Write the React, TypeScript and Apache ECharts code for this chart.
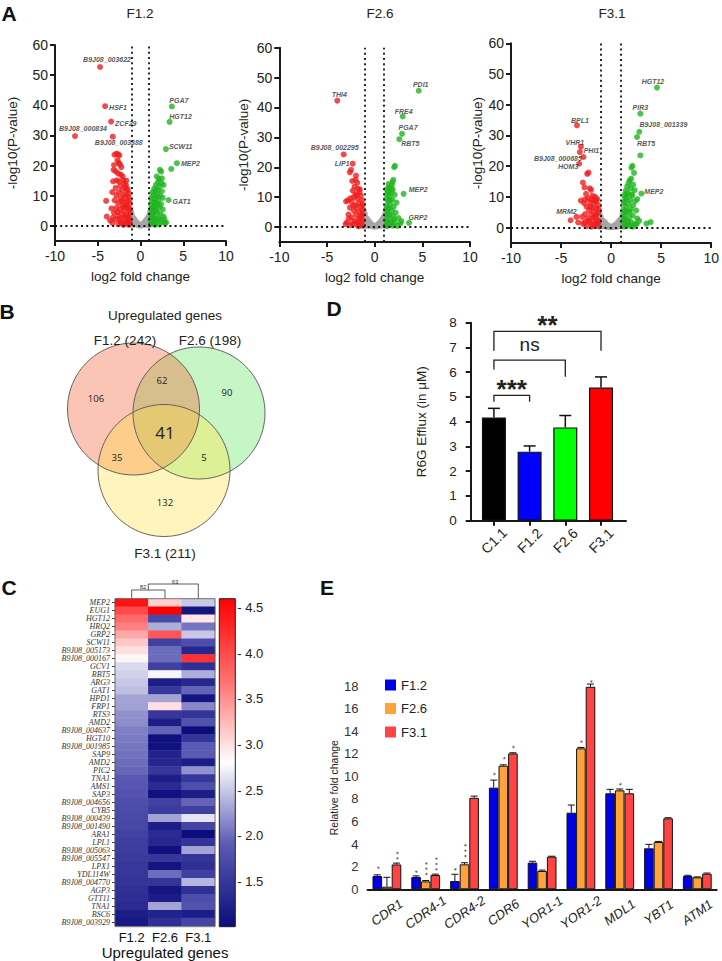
import React, { useEffect, useRef } from 'react';
import * as echarts from 'echarts';

// ---------------- Panel A: volcano plots ----------------
const volcanoNames = ['F1.2', 'F2.6', 'F3.1'];
const volYTicks = [0, 10, 20, 30, 40, 50, 60];

const f12Grey = [[-1.18,5.3],[-1.12,4.7],[-1.16,3.9],[-1.1,3.1],[-1.18,2.4],[-1.12,1.6],[-1.15,0.8],[-1.05,4.1],[-1.0,3.4],[-0.98,2.5],[-1.02,1.5],[-0.95,0.6],[-0.9,2.9],[-0.86,1.9],[-0.82,1.1],[-0.78,2.4],[-0.74,0.5],[-0.7,1.6],[-0.65,2.0],[-0.6,0.9],[-0.56,1.5],[-0.5,0.4],[-0.46,1.1],[-0.4,0.7],[-0.35,1.0],[-0.3,0.3],[-0.24,0.6],[-0.18,0.2],[-0.12,0.4],[-0.06,0.1],[0.02,0.2],[0.08,0.35],[0.14,0.15],[0.2,0.5],[0.26,0.3],[0.32,0.8],[0.38,0.4],[0.44,1.1],[0.5,0.6],[0.55,1.5],[0.6,0.3],[0.66,1.9],[0.72,1.0],[0.76,2.3],[0.82,0.5],[0.86,2.7],[0.9,1.5],[0.95,3.2],[1.0,2.2],[1.02,0.8],[1.06,3.8],[1.1,2.8],[1.14,4.5],[1.18,1.5],[1.16,3.4],[1.2,0.4],[-1.2,0.3],[-0.9,0.3],[0.9,0.2],[1.17,5.2]];
const f12Red = [[-2.8,24.0],[-2.62,23.7],[-2.48,23.4],[-3.05,23.6],[-2.7,21.8],[-2.55,20.9],[-3.1,20.2],[-2.4,20.4],[-2.25,19.5],[-3.15,18.6],[-2.9,18.1],[-2.62,17.4],[-2.3,17.0],[-2.1,16.4],[-3.2,14.8],[-2.78,15.1],[-2.5,14.7],[-2.0,15.2],[-1.65,15.0],[-1.88,14.0],[-2.36,13.3],[-2.92,12.6],[-1.8,12.8],[-2.15,12.0],[-1.58,11.6],[-2.52,11.1],[-3.3,11.2],[-2.82,10.1],[-2.02,10.3],[-1.72,10.0],[-1.42,9.6],[-2.32,9.2],[-3.02,8.5],[-1.92,8.4],[-1.55,8.0],[-2.62,7.6],[-2.12,7.0],[-1.3,7.2],[-1.76,6.5],[-2.82,6.0],[-2.42,5.5],[-1.45,5.8],[-1.92,5.0],[-1.26,4.6],[-3.1,4.4],[-2.22,4.0],[-1.62,3.8],[-2.62,3.2],[-1.36,3.0],[-1.96,2.6],[-2.9,2.2],[-1.5,1.8],[-2.32,1.5],[-1.26,1.2],[-3.3,1.0],[-1.8,0.8],[-2.62,0.6],[-1.4,0.4],[-2.02,0.3],[-4.02,8.3],[-3.95,3.1],[-3.55,1.8],[-3.22,2.8],[-3.4,5.8],[-1.5,12.2],[-1.35,10.8],[-1.7,13.5],[-2.2,8.3],[-1.6,6.8],[-1.28,8.6],[-2.0,6.2],[-1.82,3.2],[-2.42,2.4],[-1.55,2.6],[-1.28,5.6],[-2.7,4.6],[-1.7,1.2],[-2.2,0.9],[-1.3,1.9]];
const f12Green = [[2.27,18.6],[2.42,18.0],[1.91,16.4],[2.5,15.8],[2.05,14.6],[2.45,14.2],[1.8,13.6],[2.7,13.6],[2.2,13.0],[1.6,12.4],[2.05,11.8],[2.5,11.5],[1.9,10.5],[1.5,10.2],[2.3,10.0],[1.7,9.0],[2.6,9.3],[2.1,8.5],[1.35,8.2],[1.9,7.5],[2.4,7.2],[1.6,6.6],[2.2,6.2],[1.3,5.8],[1.8,5.2],[2.6,5.5],[2.0,4.5],[1.45,4.2],[2.35,3.8],[1.7,3.3],[1.25,2.8],[2.1,2.5],[2.8,2.2],[1.55,1.8],[1.9,1.2],[2.5,1.3],[1.3,0.8],[2.2,0.5],[1.7,0.3],[2.7,3.1],[3.0,1.1],[2.85,0.9],[3.6,18.9],[1.4,11.2],[1.28,6.8],[1.55,7.8],[1.75,11.6],[2.15,15.6],[1.4,3.4],[1.25,1.6],[1.65,5.4],[2.0,9.6],[1.3,9.4],[1.6,0.9],[2.35,2.0],[1.8,2.2],[1.45,6.1],[2.05,6.9],[1.3,4.4]];
const f12RedNamed = [[-4.73,52.7,'B9J08_003622'],[-4.14,39.7,'HSF1'],[-3.44,34.6,'ZCF29'],[-7.66,29.8,'B9J08_000834'],[-3.24,29.6,'B9J08_003388']];
const f12GreenNamed = [[3.67,39.6,'PGA7'],[3.40,34.5,'HGT12'],[2.97,25.5,'SCW11'],[4.26,20.8,'MEP2'],[3.28,8.6,'GAT1']];

const f26Grey = [[-1.18,6.0],[-1.12,5.2],[-1.16,4.3],[-1.1,3.5],[-1.17,2.6],[-1.12,1.7],[-1.16,0.7],[-1.04,4.6],[-1.0,3.6],[-0.97,2.6],[-1.02,1.4],[-0.94,0.5],[-0.9,3.1],[-0.85,2.0],[-0.8,1.0],[-0.77,2.6],[-0.72,0.4],[-0.68,1.7],[-0.63,2.2],[-0.58,0.8],[-0.54,1.6],[-0.48,0.4],[-0.44,1.2],[-0.38,0.7],[-0.33,1.0],[-0.28,0.3],[-0.22,0.6],[-0.16,0.2],[-0.1,0.45],[-0.04,0.1],[0.03,0.25],[0.09,0.4],[0.15,0.15],[0.21,0.55],[0.27,0.3],[0.33,0.9],[0.39,0.45],[0.45,1.2],[0.51,0.6],[0.56,1.6],[0.61,0.3],[0.67,2.0],[0.73,1.1],[0.78,2.5],[0.83,0.5],[0.87,2.9],[0.92,1.6],[0.96,3.5],[1.0,2.3],[1.03,0.8],[1.07,4.2],[1.11,3.0],[1.15,5.0],[1.18,1.6],[1.16,3.8],[1.19,0.4],[1.17,5.8],[-1.2,0.3]];
const f26Red = [[-2.6,18.3],[-2.48,19.1],[-1.96,17.2],[-1.82,14.8],[-2.35,15.4],[-2.0,15.8],[-2.1,13.5],[-1.75,12.8],[-2.3,12.2],[-1.6,11.6],[-2.0,11.0],[-1.45,10.5],[-2.2,10.0],[-1.8,9.5],[-1.35,9.0],[-2.4,8.4],[-1.65,8.0],[-2.0,7.3],[-1.4,7.0],[-2.6,6.5],[-1.85,6.2],[-1.3,5.8],[-2.2,5.5],[-1.6,5.0],[-2.75,4.2],[-1.95,4.2],[-1.35,3.8],[-2.4,3.2],[-1.7,2.8],[-1.25,2.2],[-2.1,2.0],[-2.9,1.6],[-1.5,1.4],[-1.9,0.9],[-2.5,0.6],[-1.3,0.5],[-1.7,0.2],[-3.0,8.6],[-2.8,8.9],[-3.05,1.0],[-2.7,2.8],[-1.55,12.6],[-1.25,7.6],[-1.5,3.2],[-2.25,7.2],[-1.8,1.6],[-2.3,1.2],[-1.28,4.4],[-2.55,9.6],[-1.9,10.6]];
const f26Green = [[2.13,20.5],[2.05,20.0],[1.95,15.8],[1.88,15.0],[1.8,14.0],[1.5,13.2],[1.9,12.5],[1.4,12.0],[1.7,11.5],[1.3,11.0],[2.1,10.8],[1.55,10.0],[1.22,9.5],[1.85,9.2],[1.4,8.5],[2.3,8.2],[1.65,7.6],[1.25,7.0],[2.0,6.8],[1.5,6.2],[1.8,5.5],[1.3,5.0],[2.2,4.8],[1.6,4.2],[1.95,3.6],[1.25,3.2],[2.5,3.0],[1.7,2.4],[1.4,1.8],[2.1,1.6],[2.7,1.2],[1.55,0.8],[1.9,0.5],[1.3,0.3],[2.4,0.4],[2.8,2.0],[1.75,12.8],[1.45,14.4],[1.25,12.6],[1.6,9.0],[1.35,6.4],[1.45,4.0],[1.28,1.4],[1.75,1.2],[2.05,2.6],[1.5,11.4]];
const f26RedNamed = [[-3.92,42.3,'THI4'],[-3.25,24.3,'B9J08_002295'],[-2.31,21.2,'LIP1']];
const f26GreenNamed = [[4.62,45.6,'PDI1'],[2.94,37.0,'FRE4'],[2.87,31.2,'PGA7'],[2.59,29.4,'RBT5'],[3.04,11.1,'MEP2'],[3.60,1.4,'GRP2']];

const f31Grey = [[-1.18,4.6],[-1.13,4.0],[-1.16,3.3],[-1.1,2.6],[-1.17,1.9],[-1.12,1.2],[-1.16,0.5],[-1.04,3.5],[-1.0,2.8],[-0.97,2.0],[-1.02,1.1],[-0.94,0.4],[-0.9,2.5],[-0.85,1.6],[-0.8,0.8],[-0.76,2.1],[-0.72,0.4],[-0.68,1.4],[-0.63,1.8],[-0.58,0.7],[-0.54,1.3],[-0.48,0.3],[-0.44,1.0],[-0.38,0.6],[-0.33,0.8],[-0.28,0.25],[-0.22,0.5],[-0.16,0.2],[-0.1,0.35],[-0.04,0.1],[0.03,0.2],[0.09,0.35],[0.15,0.15],[0.21,0.45],[0.27,0.25],[0.33,0.75],[0.39,0.35],[0.45,1.0],[0.51,0.5],[0.56,1.3],[0.61,0.25],[0.67,1.7],[0.73,0.9],[0.78,2.1],[0.83,0.45],[0.87,2.4],[0.92,1.3],[0.96,2.9],[1.0,1.9],[1.03,0.7],[1.07,3.4],[1.11,2.4],[1.15,4.1],[1.18,1.3],[1.16,3.0],[1.19,0.35],[1.17,4.6],[-1.2,0.3]];
const f31Red = [[-2.39,17.5],[-2.26,17.9],[-2.82,14.7],[-2.66,13.1],[-2.13,12.8],[-2.0,12.3],[-2.5,11.0],[-1.85,10.4],[-1.6,10.0],[-2.3,9.6],[-1.95,9.2],[-1.45,8.8],[-2.7,8.0],[-2.1,8.2],[-1.7,7.8],[-1.3,7.4],[-2.45,6.8],[-1.9,6.5],[-1.5,6.2],[-2.2,5.6],[-1.75,5.2],[-1.3,4.8],[-2.6,4.4],[-2.0,4.2],[-1.55,3.6],[-2.35,3.0],[-1.85,2.6],[-1.25,2.3],[-2.15,1.6],[-2.8,1.2],[-1.65,1.2],[-1.4,0.6],[-2.45,0.5],[-1.95,0.3],[-3.02,8.8],[-2.6,9.2],[-4.05,2.4],[-3.29,1.7],[-2.9,3.5],[-2.65,1.8],[-1.4,9.4],[-1.65,8.8],[-1.25,6.0],[-1.5,4.2],[-1.3,1.4],[-1.75,3.4],[-2.1,6.8],[-1.45,2.0],[-2.25,2.2],[-1.8,0.8]];
const f31Green = [[2.92,23.5],[2.13,20.1],[2.03,19.5],[2.29,17.8],[1.86,15.4],[2.0,16.0],[1.75,14.6],[2.2,14.0],[1.6,13.4],[1.95,12.8],[1.45,12.0],[2.35,12.2],[1.7,11.2],[1.3,10.6],[2.1,10.4],[1.55,9.6],[1.9,9.0],[2.4,8.6],[1.35,8.4],[1.75,7.8],[2.2,7.2],[1.5,6.8],[1.25,6.0],[1.95,6.0],[2.5,5.6],[1.6,5.0],[1.3,4.2],[2.15,4.0],[1.8,3.4],[2.6,3.0],[1.45,2.6],[1.22,1.8],[2.0,1.8],[2.4,1.2],[1.65,1.0],[1.35,0.4],[2.2,0.3],[1.9,0.6],[2.62,9.3],[3.52,1.3],[3.95,1.8],[2.8,2.2],[2.55,1.1],[1.4,9.6],[1.25,8.0],[1.55,11.0],[1.4,5.4],[1.25,3.0],[1.7,2.0],[1.5,0.9],[2.05,10.8],[1.85,5.2]];
const f31RedNamed = [[-3.41,33.3,'BPL1'],[-3.02,26.3,'VHR1'],[-2.76,23.0,'PHI1'],[-3.12,24.6,'B9J08_000685'],[-3.19,20.8,'HOM3'],[-3.46,3.5,'MRM2']];
const f31GreenNamed = [[4.58,45.6,'HGT12'],[2.92,37.1,'PIR3'],[2.82,31.2,'B9J08_001339'],[2.59,29.5,'RBT5'],[3.02,11.1,'MEP2']];

// label placements (style): [dx, dy, align]
const f12RedPlace = [[7,-8,'center'],[4,1,'left'],[4,2,'left'],[8,-8,'center'],[6,6,'center']];
const f12GreenPlace = [[7,-6,'center'],[11,-5,'center'],[3,-3,'left'],[4,0,'left'],[4,2,'left']];
const f26RedPlace = [[2,-6,'center'],[-9,-7,'center'],[-3,0,'right']];
const f26GreenPlace = [[2,-6,'center'],[1,-5,'center'],[6,-6,'center'],[11,4,'center'],[5,-4,'left'],[9,-5,'center']];
const f31RedPlace = [[3,-5,'center'],[-6,-4,'center'],[8,-6,'center'],[-22,6,'center'],[-11,3,'center'],[-10,-5,'center']];
const f31GreenPlace = [[-4,-6,'center'],[0,-6,'center'],[24,-7,'center'],[9,6,'center'],[3,-2,'left']];

// ---------------- Panel B: Venn ----------------
const vennSets = ['F1.2', 'F2.6', 'F3.1'];
const vennTotals = [242, 198, 211];
const vennOnly = [106, 90, 132];
const vennPairs = [62, 35, 5]; // AB, AC, BC
const vennAll = 41;

// ---------------- Panel C: heatmap ----------------
const heatCols = ['F1.2', 'F2.6', 'F3.1'];
const heatGenes = ['MEP2','EUG1','HGT12','HRQ2','GRP2','SCW11','B9J08_005173','B9J08_000167','GCV1','RBT5','ARG3','GAT1','HPD1','FRP1','RTS3','AMD2','B9J08_004637','HGT10','B9J08_001985','SAP9','AMD2','PIC2','TNA1','AMS1','SAP3','B9J08_004656','CYB5','B9J08_000439','B9J08_001490','ARA1','LPL1','B9J08_005063','B9J08_005547','LPX1','YDL114W','B9J08_004770','AGP3','GTT11','TNA1','BSC6','B9J08_003929'];
const heatF12 = [4.45,4.0,3.75,3.6,3.35,3.15,3.0,2.85,2.6,2.55,2.5,2.45,2.3,2.28,2.2,2.18,2.1,2.08,2.06,2.03,2.0,1.97,1.88,1.85,1.82,1.75,1.73,1.7,1.68,1.62,1.58,1.55,1.53,1.5,1.48,1.45,1.4,1.38,1.35,1.2,1.15];
const heatF26 = [3.1,4.6,1.7,2.35,3.9,1.6,2.0,2.0,1.6,2.75,1.2,1.5,2.3,3.0,1.5,1.2,1.95,1.05,1.05,1.25,1.3,1.5,1.2,1.35,1.05,1.6,1.55,2.3,1.2,1.35,1.3,1.05,1.5,1.1,2.0,1.45,1.1,1.2,2.3,1.25,1.4];
const heatF31 = [2.5,1.1,2.95,2.05,2.5,1.75,1.3,4.2,1.4,2.35,1.3,1.95,1.1,2.15,1.45,1.8,1.0,1.45,1.9,1.9,1.2,2.2,1.5,1.75,1.2,1.95,1.6,2.65,1.65,1.0,1.45,2.3,1.45,1.4,1.6,2.4,1.4,1.75,1.8,1.2,1.65];
const heatMin = 1.0, heatMax = 4.6;
const dendroLabels = ['82', '63'];

// ---------------- Panel D: R6G efflux ----------------
const effluxCats = ['C1.1', 'F1.2', 'F2.6', 'F3.1'];
const effluxMean = [4.17, 2.79, 3.77, 5.38];
const effluxErr = [0.37, 0.23, 0.48, 0.43];
const sigFrom = [0, 0, 0];
const sigTo = [1, 2, 3];
const sigTop = [5.06, 6.49, 7.65];
const sigLegL = [4.81, 6.11, 6.87];
const sigLegR = [4.81, 5.82, 6.87];
const sigText = ['***', 'ns', '**'];
const sigTextY = [5.58, 7.12, 8.13];

// ---------------- Panel E: relative fold change ----------------
const eGenes = ['CDR1','CDR4-1','CDR4-2','CDR6','YOR1-1','YOR1-2','MDL1','YBT1','ATM1'];
const eSeriesNames = ['F1.2', 'F2.6', 'F3.1'];
const eF12 = [1.18, 1.09, 0.73, 9.0, 2.36, 6.78, 8.5, 3.63, 1.18];
const eF26 = [0.23, 0.70, 2.21, 10.94, 1.62, 12.48, 8.76, 4.19, 1.06];
const eF31 = [2.20, 1.26, 8.10, 12.03, 2.89, 17.93, 8.50, 6.28, 1.38];
const eF12Err = [0.10, 0.10, 0.60, 0.67, 0.12, 0.68, 0.35, 0.35, 0.06];
const eF26Err = [0.83, 0.08, 0.14, 0.08, 0.08, 0.08, 0.12, 0.05, 0.04];
const eF31Err = [0.12, 0.08, 0.15, 0.06, 0.04, 0.24, 0.35, 0.06, 0.06];
const eF12Stars = [1, 1, 1, 1, 0, 0, 0, 0, 0];
const eF26Stars = [0, 3, 3, 1, 0, 1, 1, 0, 0];
const eF31Stars = [2, 3, 0, 1, 0, 1, 0, 0, 0];
const eF12StarY = [1.9, 1.55, 1.77, 10.2, 0, 0, 0, 0, 0];
const eF26StarY = [0, 1.35, 2.95, 11.6, 0, 13.06, 9.3, 0, 0];
const eF31StarY = [2.75, 1.77, 0, 12.6, 0, 18.4, 0, 0, 0];

// ---------------- styling ----------------
const RED = '#f01e1e';
const GREEN = '#1fb51f';
const GREY = '#a6a6a6';
const DARK = '#1a1a1a';
const E_COLORS = ['#0000e6', '#ffa23a', '#ff4444'];
const D_COLORS = ['#000000', '#0000ff', '#00ff00', '#ff0000'];
const HEAT_COLORS = ['#0c0c7c', '#5a5ab4', '#ffffff', '#ff7070', '#ff0000'];
const E_BAR_W = 9.6;

type P = [number, number];
const VR = 66;
const vA: P = [133.5, 409];
const vB: P = [199, 413];
const vC: P = [164, 470.5];

function intersect(c1: P, c2: P): [P, P] {
  const dx = c2[0] - c1[0], dy = c2[1] - c1[1];
  const d = Math.hypot(dx, dy);
  const h = Math.sqrt(VR * VR - (d / 2) * (d / 2));
  const mx = c1[0] + dx / 2, my = c1[1] + dy / 2;
  return [[mx - (h * dy) / d, my + (h * dx) / d], [mx + (h * dy) / d, my - (h * dx) / d]];
}
const inside = (p: P, c: P) => Math.hypot(p[0] - c[0], p[1] - c[1]) < VR - 0.01;
function arcPts(c: P, p: P, q: P, ok: (m: P) => boolean): P[] {
  const a1 = Math.atan2(p[1] - c[1], p[0] - c[0]);
  const a2 = Math.atan2(q[1] - c[1], q[0] - c[0]);
  let d = a2 - a1;
  while (d <= 0) d += 2 * Math.PI;
  const at = (t: number): P => [c[0] + VR * Math.cos(t), c[1] + VR * Math.sin(t)];
  if (!ok(at(a1 + d / 2))) d -= 2 * Math.PI;
  const pts: P[] = [];
  const n = 40;
  for (let i = 0; i <= n; i++) pts.push(at(a1 + (d * i) / n));
  return pts;
}

function vennGraphics() {
  const [ab1, ab2] = intersect(vA, vB);
  const abIn = inside(ab1, vC) ? ab1 : ab2;
  const abOut = abIn === ab1 ? ab2 : ab1;
  const [ac1, ac2] = intersect(vA, vC);
  const acIn = inside(ac1, vB) ? ac1 : ac2;
  const acOut = acIn === ac1 ? ac2 : ac1;
  const [bc1, bc2] = intersect(vB, vC);
  const bcIn = inside(bc1, vA) ? bc1 : bc2;
  const bcOut = bcIn === bc1 ? bc2 : bc1;

  const lensAB = [...arcPts(vA, abOut, abIn, (m) => inside(m, vB)), ...arcPts(vB, abIn, abOut, (m) => inside(m, vA))];
  const lensAC = [...arcPts(vA, acOut, acIn, (m) => inside(m, vC)), ...arcPts(vC, acIn, acOut, (m) => inside(m, vA))];
  const lensBC = [...arcPts(vB, bcOut, bcIn, (m) => inside(m, vC)), ...arcPts(vC, bcIn, bcOut, (m) => inside(m, vB))];
  const center = [
    ...arcPts(vC, bcIn, acIn, (m) => inside(m, vA) && inside(m, vB)),
    ...arcPts(vA, acIn, abIn, (m) => inside(m, vB) && inside(m, vC)),
    ...arcPts(vB, abIn, bcIn, (m) => inside(m, vA) && inside(m, vC)),
  ];
  const circ = (c: P, fill: string) => ({ type: 'circle', shape: { cx: c[0], cy: c[1], r: VR }, style: { fill } });
  const ring = (c: P) => ({ type: 'circle', shape: { cx: c[0], cy: c[1], r: VR }, style: { fill: 'none', stroke: '#555', lineWidth: 0.9 } });
  const poly = (pts: P[], fill: string) => ({ type: 'polygon', shape: { points: pts }, style: { fill } });
  const txt = (x: number, y: number, text: string, size: number, family = 'Open Sans') => ({
    type: 'text', x, y, style: { text, fontSize: size, fontFamily: family, fill: '#222', align: 'center', verticalAlign: 'middle' },
  });
  return [
    circ(vA, '#fac5b5'), circ(vB, '#c6f5c6'), circ(vC, '#fff5bc'),
    poly(lensAB, '#d8be8c'), poly(lensAC, '#fdcd8c'), poly(lensBC, '#ddf096'),
    poly(center, '#e4c873'),
    ring(vA), ring(vB), ring(vC),
    txt(165, 315, 'Upregulated genes', 13.5, 'Liberation Sans'),
    txt(125, 340, `${vennSets[0]} (${vennTotals[0]})`, 13.5, 'Liberation Sans'),
    txt(210, 340, `${vennSets[1]} (${vennTotals[1]})`, 13.5, 'Liberation Sans'),
    txt(165, 553, `${vennSets[2]} (${vennTotals[2]})`, 13.5, 'Liberation Sans'),
    txt(96, 398, String(vennOnly[0]), 9.5),
    txt(227, 392, String(vennOnly[1]), 9.5),
    txt(165, 502, String(vennOnly[2]), 9.5),
    txt(162, 380, String(vennPairs[0]), 9.5),
    txt(117, 457, String(vennPairs[1]), 9.5),
    txt(204, 457, String(vennPairs[2]), 9.5),
    txt(165, 432, String(vennAll), 17),
  ];
}

function buildOption() {
  const axisLine = { onZero: false, lineStyle: { color: DARK, width: 2 } };
  const axisTick = { length: 5, lineStyle: { color: DARK, width: 2 } };
  const tickFont = { fontSize: 14, color: '#222' };

  const volGrids = [
    { left: 55, top: 45, width: 171, height: 196 },
    { left: 279.3, top: 47.7, width: 190.7, height: 194.3 },
    { left: 511, top: 43.3, width: 200.7, height: 199.7 },
  ];
  const volYNameGap = [36, 29, 26];
  const grids: any[] = [
    ...volGrids,
    { left: 470.7, top: 322.7, width: 155.3, height: 198 },
    { left: 115, top: 598.7, width: 100, height: 328 },
    { left: 367.5, top: 686, width: 349.2, height: 203.3 },
    { left: 219.3, top: 598.7, width: 16, height: 328 },
  ];

  const xAxes: any[] = [];
  const yAxes: any[] = [];
  for (let i = 0; i < 3; i++) {
    xAxes.push({
      type: 'value', gridIndex: i, min: -10, max: 10, interval: 5,
      name: 'log2 fold change', nameLocation: 'middle', nameGap: 28,
      nameTextStyle: { fontSize: 13.5, color: '#222' },
      axisLine, axisTick, axisLabel: { ...tickFont, margin: 8 }, splitLine: { show: false },
    });
    yAxes.push({
      type: 'value', gridIndex: i, min: -5, max: 60,
      name: '-log10(P-value)', nameLocation: 'middle', nameGap: volYNameGap[i], nameRotate: 90,
      nameTextStyle: { fontSize: 13.5, color: '#222' },
      axisLine, axisTick: { ...axisTick, customValues: volYTicks },
      axisLabel: { ...tickFont, margin: 7, customValues: volYTicks }, splitLine: { show: false },
    });
  }
  // D
  xAxes.push({
    type: 'value', gridIndex: 3, min: -0.65, max: 3.7, axisLine,
    axisTick: { ...axisTick, customValues: [0, 1, 2, 3] },
    axisLabel: { customValues: [0, 1, 2, 3], formatter: (v: number) => effluxCats[Math.round(v)], rotate: 45, align: 'center', verticalAlign: 'middle', margin: 20, fontSize: 14, color: '#222' },
    splitLine: { show: false },
  });
  yAxes.push({
    type: 'value', gridIndex: 3, min: 0, max: 8, interval: 1,
    name: 'R6G Efflux (in μM)', nameLocation: 'middle', nameGap: 42, nameRotate: 90,
    nameTextStyle: { fontSize: 13.5, color: '#222' },
    axisLine, axisTick, axisLabel: { fontSize: 13.5, color: '#222', margin: 14 }, splitLine: { show: false },
  });
  // C heatmap
  xAxes.push({
    type: 'category', gridIndex: 4, data: heatCols, axisLine: { show: false }, axisTick: { show: false },
    axisLabel: { fontSize: 13, color: '#111', margin: 5, interval: 0 },
    name: 'Upregulated genes', nameLocation: 'middle', nameGap: 17, nameTextStyle: { fontSize: 15, color: '#111' },
  });
  yAxes.push({
    type: 'category', gridIndex: 4, data: heatGenes, inverse: true, axisLine: { show: false },
    axisTick: { show: true, alignWithLabel: true, length: 3, interval: 0, lineStyle: { color: '#444', width: 1 } },
    axisLabel: { interval: 0, fontFamily: 'Liberation Serif', fontStyle: 'italic', fontSize: 8, color: '#333', margin: 5 },
  });
  // E
  xAxes.push({
    type: 'category', gridIndex: 5, data: eGenes, axisLine: { lineStyle: { color: DARK, width: 2 } },
    axisTick: { alignWithLabel: true, length: 4, lineStyle: { color: DARK, width: 1.5 } },
    axisLabel: { rotate: 35, align: 'center', verticalAlign: 'middle', margin: 23, fontStyle: 'italic', fontSize: 13, color: '#222', interval: 0 },
  });
  yAxes.push({
    type: 'value', gridIndex: 5, min: 0, max: 18, interval: 2,
    name: 'Relative fold change', nameLocation: 'middle', nameGap: 28, nameRotate: 90,
    nameTextStyle: { fontSize: 10.5, color: '#222' },
    axisLine: { onZero: false, lineStyle: { color: DARK, width: 1.5 } },
    axisTick: { length: 4, lineStyle: { color: DARK, width: 1.5 } },
    axisLabel: { fontSize: 13, color: '#333', margin: 9 }, splitLine: { show: false },
  });
  // colorbar axis
  xAxes.push({ type: 'value', gridIndex: 6, show: false, min: 0, max: 1 });
  yAxes.push({
    type: 'value', gridIndex: 6, min: heatMin, max: heatMax, interval: 0.5, position: 'right',
    axisLine: { show: false }, axisTick: { show: false }, splitLine: { show: false },
    axisLabel: { fontSize: 13, color: '#222', margin: 2, formatter: (v: number) => (v < 1.2 || v > 4.55 ? '' : '- ' + v.toFixed(1)) },
  });

  const series: any[] = [];
  const sets = [
    { grey: f12Grey, red: f12Red, green: f12Green, redN: f12RedNamed, greenN: f12GreenNamed, redP: f12RedPlace, greenP: f12GreenPlace },
    { grey: f26Grey, red: f26Red, green: f26Green, redN: f26RedNamed, greenN: f26GreenNamed, redP: f26RedPlace, greenP: f26GreenPlace },
    { grey: f31Grey, red: f31Red, green: f31Green, redN: f31RedNamed, greenN: f31GreenNamed, redP: f31RedPlace, greenP: f31GreenPlace },
  ];
  const namedLabel = {
    show: true, position: ['50%', '50%'], formatter: '{b}', fontSize: 7, fontWeight: 'bold', fontStyle: 'italic',
    color: '#2a2a2a', verticalAlign: 'middle', textBorderWidth: 0, fontFamily: 'Liberation Sans',
  };
  sets.forEach((s, i) => {
    const base = { type: 'scatter', xAxisIndex: i, yAxisIndex: i, symbolSize: 6, silent: true };
    series.push({
      ...base, name: 'grey' + i, data: s.grey, itemStyle: { color: GREY }, z: 2,
      markLine: {
        silent: true, symbol: 'none', label: { show: false },
        lineStyle: { type: [2, 3.2], color: '#111', width: 1.8 },
        data: [{ xAxis: -1 }, { xAxis: 1 }, { yAxis: 0 }],
      },
    });
    series.push({ ...base, name: 'down' + i, data: s.red, itemStyle: { color: RED }, z: 3 });
    series.push({ ...base, name: 'up' + i, data: s.green, itemStyle: { color: GREEN }, z: 3 });
    series.push({
      ...base, name: 'downN' + i, itemStyle: { color: RED }, z: 4, label: namedLabel,
      data: s.redN.map((d: any, k: number) => ({ value: [d[0], d[1]], name: d[2], label: { offset: [s.redP[k][0], s.redP[k][1]], align: s.redP[k][2] } })),
    });
    series.push({
      ...base, name: 'upN' + i, itemStyle: { color: GREEN }, z: 4, label: namedLabel,
      data: s.greenN.map((d: any, k: number) => ({ value: [d[0], d[1]], name: d[2], label: { offset: [s.greenP[k][0], s.greenP[k][1]], align: s.greenP[k][2] } })),
    });
  });

  // D bars
  series.push({
    type: 'bar', name: 'efflux', xAxisIndex: 3, yAxisIndex: 3, barWidth: 24, silent: true, z: 2,
    data: effluxMean.map((v, i) => ({ value: [i, v], itemStyle: { color: D_COLORS[i] } })),
    itemStyle: { borderColor: '#111', borderWidth: 1.2 },
  });
  series.push({
    type: 'custom', name: 'effluxErr', xAxisIndex: 3, yAxisIndex: 3, silent: true, z: 3, clip: false,
    data: effluxMean.map((v, i) => [i, v, v + effluxErr[i]]),
    renderItem: (_p: any, api: any) => {
      const b = api.coord([api.value(0), api.value(1)]);
      const t = api.coord([api.value(0), api.value(2)]);
      return {
        type: 'group', children: [
          { type: 'line', shape: { x1: b[0], y1: b[1], x2: t[0], y2: t[1] }, style: { stroke: '#111', lineWidth: 1.5 } },
          { type: 'line', shape: { x1: t[0] - 6, y1: t[1], x2: t[0] + 6, y2: t[1] }, style: { stroke: '#111', lineWidth: 1.5 } },
        ],
      };
    },
  });
  series.push({
    type: 'custom', name: 'sig', xAxisIndex: 3, yAxisIndex: 3, silent: true, z: 3, clip: false,
    data: sigText.map((_t, i) => [sigFrom[i], sigTo[i], sigTop[i], sigLegL[i], sigLegR[i], sigTextY[i], i]),
    renderItem: (_p: any, api: any) => {
      const a = api.value(0), b = api.value(1), top = api.value(2);
      const lL = api.coord([a, api.value(3)]);
      const lR = api.coord([b, api.value(4)]);
      const pL = api.coord([a, top]);
      const pR = api.coord([b, top]);
      const tp = api.coord([(a + b) / 2, api.value(5)]);
      const idx = api.value(6);
      const label = sigText[idx];
      const star = label.indexOf('*') >= 0;
      return {
        type: 'group', children: [
          { type: 'polyline', shape: { points: [[lL[0], lL[1]], [pL[0], pL[1]], [pR[0], pR[1]], [lR[0], lR[1]]] }, style: { stroke: '#222', lineWidth: 1.3, fill: 'none' } },
          { type: 'text', x: tp[0], y: tp[1] + (star ? 6 : 0), style: { text: label, fontSize: star ? 26 : 19, fontWeight: star ? 'bold' : 'normal', fontFamily: 'Liberation Sans', fill: '#222', align: 'center', verticalAlign: 'middle' } },
        ],
      };
    },
  });

  // C heatmap
  const heatData: number[][] = [];
  [heatF12, heatF26, heatF31].forEach((col, ci) => col.forEach((v, ri) => heatData.push([ci, ri, v])));
  const heatIndex = series.length;
  series.push({ type: 'heatmap', name: 'heat', xAxisIndex: 4, yAxisIndex: 4, data: heatData, silent: true, itemStyle: { borderWidth: 0 } });
  series.push({ type: 'scatter', name: 'cbar', xAxisIndex: 6, yAxisIndex: 6, data: [], silent: true });

  // E bars
  const eVals = [eF12, eF26, eF31];
  const eErrs = [eF12Err, eF26Err, eF31Err];
  const eStars = [eF12Stars, eF26Stars, eF31Stars];
  const eStarY = [eF12StarY, eF26StarY, eF31StarY];
  eVals.forEach((vals, si) => {
    series.push({
      type: 'bar', name: eSeriesNames[si], xAxisIndex: 5, yAxisIndex: 5, data: vals, barWidth: E_BAR_W, barGap: '0%', silent: true, z: 2,
      itemStyle: { color: E_COLORS[si], borderColor: '#111', borderWidth: 1 },
    });
  });
  const errRows: number[][] = [];
  eVals.forEach((vals, si) => vals.forEach((v, ci) => errRows.push([ci, v, v + eErrs[si][ci], si])));
  series.push({
    type: 'custom', name: 'eErr', xAxisIndex: 5, yAxisIndex: 5, silent: true, z: 3, clip: false, data: errRows,
    renderItem: (_p: any, api: any) => {
      const b = api.coord([api.value(0), api.value(1)]);
      const t = api.coord([api.value(0), api.value(2)]);
      const x = b[0] + (api.value(3) - 1) * E_BAR_W;
      return {
        type: 'group', children: [
          { type: 'line', shape: { x1: x, y1: b[1], x2: x, y2: t[1] }, style: { stroke: '#111', lineWidth: 1 } },
          { type: 'line', shape: { x1: x - 3.5, y1: t[1], x2: x + 3.5, y2: t[1] }, style: { stroke: '#111', lineWidth: 1 } },
        ],
      };
    },
  });
  const starRows: number[][] = [];
  eStars.forEach((arr, si) => arr.forEach((n, ci) => { if (n > 0) starRows.push([ci, eStarY[si][ci], n, si]); }));
  series.push({
    type: 'custom', name: 'eStars', xAxisIndex: 5, yAxisIndex: 5, silent: true, z: 4, clip: false, data: starRows,
    renderItem: (_p: any, api: any) => {
      const b = api.coord([api.value(0), api.value(1)]);
      const x = b[0] + (api.value(3) - 1) * E_BAR_W;
      const n = api.value(2);
      const parts: string[] = [];
      for (let k = 0; k < n; k++) parts.push('*');
      // stacked asterisks drawn as one text turned upright (reads bottom to top)
      return {
        type: 'text', x: x + 1.8, y: b[1] + 1.5, rotation: Math.PI / 2,
        style: { text: parts.join(' '), fontSize: 8, fill: '#333', align: 'left', verticalAlign: 'middle', fontFamily: 'Liberation Sans' },
      };
    },
  });

  // graphics
  const letters = [['A', 9, 13], ['B', 7, 311], ['C', 9, 587], ['D', 334, 308], ['E', 327, 587]];
  const graphics: any[] = [
    ...letters.map(([t, x, y]) => ({ type: 'text', x, y, style: { text: t, fontSize: 21, fontWeight: 'bold', fontFamily: 'Liberation Sans', fill: '#111', align: 'center', verticalAlign: 'middle' } })),
    ...volcanoNames.map((t, i) => ({ type: 'text', x: [140, 380, 612][i], y: 13, style: { text: t, fontSize: 13.5, fontFamily: 'Liberation Sans', fill: '#222', align: 'center', verticalAlign: 'middle' } })),
    ...vennGraphics(),
    // dendrogram
    { type: 'polyline', shape: { points: [[131.7, 598.7], [131.7, 590], [165, 590], [165, 598.7]] }, style: { stroke: '#333', lineWidth: 0.8, fill: 'none' } },
    { type: 'polyline', shape: { points: [[148.3, 590], [148.3, 584], [198.3, 584], [198.3, 598.7]] }, style: { stroke: '#333', lineWidth: 0.8, fill: 'none' } },
    { type: 'text', x: 143, y: 587, style: { text: dendroLabels[0], fontSize: 6, fill: '#333', align: 'center', verticalAlign: 'middle' } },
    { type: 'text', x: 175, y: 581.5, style: { text: dendroLabels[1], fontSize: 6, fill: '#333', align: 'center', verticalAlign: 'middle' } },
    // heatmap border
    { type: 'rect', shape: { x: 115, y: 598.7, width: 100, height: 328 }, style: { fill: 'none', stroke: '#555', lineWidth: 0.8 }, z: 100 },
    // colour bar
    {
      type: 'rect', shape: { x: 219.3, y: 598.7, width: 16, height: 328 },
      style: {
        fill: new echarts.graphic.LinearGradient(0, 0, 0, 1, [
          { offset: 0, color: HEAT_COLORS[4] }, { offset: 0.25, color: HEAT_COLORS[3] }, { offset: 0.5, color: HEAT_COLORS[2] },
          { offset: 0.75, color: HEAT_COLORS[1] }, { offset: 1, color: HEAT_COLORS[0] },
        ]),
        stroke: '#222', lineWidth: 1,
      },
    },
  ];

  return {
    animation: false,
    backgroundColor: '#ffffff',
    textStyle: { fontFamily: 'Liberation Sans' },
    grid: grids,
    xAxis: xAxes,
    yAxis: yAxes,
    visualMap: [{ type: 'continuous', show: false, min: heatMin, max: heatMax, seriesIndex: heatIndex, inRange: { color: HEAT_COLORS } }],
    legend: {
      data: eSeriesNames, orient: 'vertical', left: 380, top: 673.5, itemWidth: 11, itemHeight: 11, itemGap: 10.5,
      textStyle: { fontSize: 13, color: '#222' }, itemStyle: { borderWidth: 0 }, selectedMode: false, icon: 'rect',
    },
    series,
    graphic: graphics,
  };
}

export default function App() {
  const ref = useRef<HTMLDivElement>(null);
  useEffect(() => {
    if (!ref.current) return;
    const chart = echarts.init(ref.current, null, { renderer: 'svg', width: 722, height: 961 });
    chart.setOption(buildOption() as any);
    return () => chart.dispose();
  }, []);
  return <div ref={ref} style={{ position: 'absolute', left: 0, top: 0, width: 722, height: 961, background: '#fff' }} />;
}
